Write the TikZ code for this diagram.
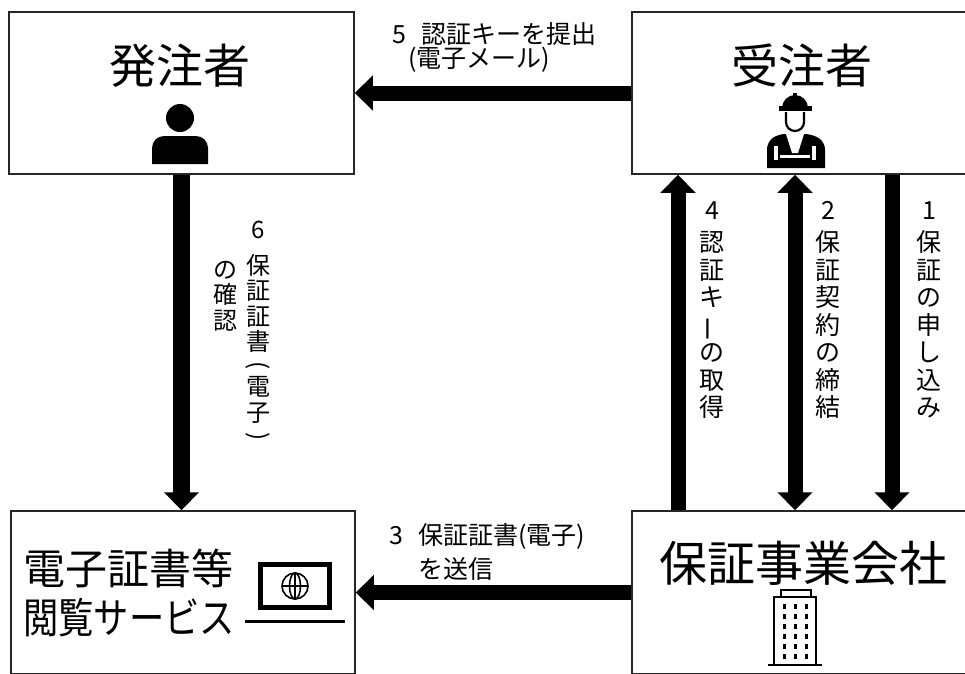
\documentclass[tikz,border=0pt]{standalone}
\usepackage{fontspec}
\setmainfont{Noto Sans CJK JP}
\usetikzlibrary{arrows.meta}
\newcommand\vrot[1]{\rotatebox[origin=c]{-90}{#1}}
\newcommand\vbar{\rotatebox[origin=c]{90}{ー}}
\tikzset{
  box/.style={draw=black!85, line width=1.5pt, fill=white, inner sep=0pt},
  fat/.style={line width=15pt, -{Triangle[length=18pt,width=34pt]}},
  fatboth/.style={line width=15pt, {Triangle[length=18pt,width=34pt]}-{Triangle[length=18pt,width=34pt]}},
  title/.style={font=\fontsize{47}{50}\selectfont, inner sep=0pt},
  lbl/.style={font=\fontsize{25}{27}\selectfont, inner sep=0pt, align=left},
  vlbl/.style={font=\fontsize{24}{25.5}\selectfont, inner sep=0pt, align=center, anchor=north},
  vlblr/.style={font=\fontsize{25}{27.5}\selectfont, inner sep=0pt, align=center, anchor=north},
}
\begin{document}
\begin{tikzpicture}[x=1pt, y=-1pt]
\useasboundingbox (0,0) rectangle (965,673);
\clip (0,0) rectangle (965,673);
\fill[white] (0,0) rectangle (965,673);

% boxes
\node[box, minimum width=345pt, minimum height=162pt] (hattyu) at (181.5,93) {};
\node[box, minimum width=348pt, minimum height=162pt] (juchu) at (806,93) {};
\node[box, minimum width=344pt, minimum height=163pt] (etsuran) at (183,592.5) {};
\node[box, minimum width=348pt, minimum height=163pt] (hosho) at (806,592.5) {};

% titles
\node[title] (t1) at (180,66) {発注者};
\node[title] (t2) at (802,66) {受注者};
\node[title, font=\fontsize{48}{50}\selectfont] (t3) at (803,563) {保証事業会社};
\node[inner sep=0pt, anchor=west] (t4a) at (23,568) {\fontsize{42}{44}\selectfont 電子証書等};
\node[inner sep=0pt, anchor=west] (t4b) at (23,618) {\scalebox{0.84}[1]{\fontsize{42}{44}\selectfont 閲覧サービス}};

% person icon
\fill (180,118) circle[radius=14];
\fill (152,164) [rounded corners=12] -- (152,136) -- (208,136) [sharp corners] -- (208,164) -- cycle;

% worker icon
\fill (782,108) arc[start angle=180, end angle=360, radius=13];
\fill (779,106) rectangle (812,111);
\fill (793,93) rectangle (797,97);
\draw[line width=2.2pt] (786,112) -- (786,122) arc[start angle=180, end angle=0, radius=9] -- (804,112);
\fill (767,168) [rounded corners=7] -- (767,142) -- (778,134) -- (812,134) -- (825,142) [sharp corners] -- (825,168) -- cycle;
\fill[white] (786,134) -- (804,134) -- (798,153) -- (792,153) -- cycle;
\fill[white] (774,146) rectangle (778,160);
\fill[white] (812,146) rectangle (816,160);
\fill[white] (780,155) rectangle (810,158);

% laptop icon
\draw[line width=5pt] (260.5,564.5) rectangle (329.5,607.5);
\draw[line width=3pt] (245,621) -- (345,621);
\begin{scope}[line width=1.6pt]
\draw (295,586) circle[radius=13];
\draw (295,586) ellipse[x radius=5.5, y radius=13];
\draw (282,586) -- (308,586);
\draw (295,573) -- (295,599);
\end{scope}

% building icon
\draw[line width=1.5pt] (781,590) rectangle (811,597);
\draw[line width=1.5pt] (774,597) rectangle (816,665);
\draw[line width=1.5pt] (768,665) -- (822,665);
\foreach \cx in {783,794,805} {
  \foreach \ry in {604,614,624,634,644,654} {
    \fill (\cx,\ry) rectangle ++(3,5);
  }
}

% arrows
\coordinate (x4) at (678,0);
\coordinate (x2) at (795,0);
\coordinate (x1) at (892,0);
\draw[fat] (juchu.west) -- (hattyu.east);
\draw[fat] (hosho.west |- etsuran.east) -- (etsuran.east);
\draw[fat, line width=17pt] (hattyu.south) -- (hattyu.south |- etsuran.north);
\draw[fat] (x4 |- hosho.north) -- (x4 |- juchu.south);
\draw[fatboth] (x2 |- juchu.south) -- (x2 |- hosho.north);
\draw[fat] (x1 |- juchu.south) -- (x1 |- hosho.north);

% horizontal labels
\node[lbl, anchor=north west] (l5) at (392,22) {5\hspace{0.6em}認証キーを提出\\[-3pt]\hspace*{16pt}(電子メール)};
\node[lbl, anchor=north west] (l3) at (389,523) {3\hspace{0.6em}保証証書(電子)\\[7pt]\hspace*{29pt}を送信};

% vertical labels
\node[vlbl] (l6a) at (258,221) {6\\[10pt]保\\証\\証\\書\\[-3pt]\vrot{(}\\[-3pt]電\\子\\[-3pt]\vrot{)}};
\node[vlbl] (l6b) at (225,261) {の\\確\\認};
\node[vlblr] (l4) at (712,201) {4\\[5pt]認\\証\\キ\\\vbar\\の\\取\\得};
\node[vlblr] (l2) at (828,201) {2\\[5pt]保\\証\\契\\約\\の\\締\\結};
\node[vlblr] (l1) at (929,201) {1\\[5pt]保\\証\\の\\申\\し\\込\\み};
\end{tikzpicture}
\end{document}
